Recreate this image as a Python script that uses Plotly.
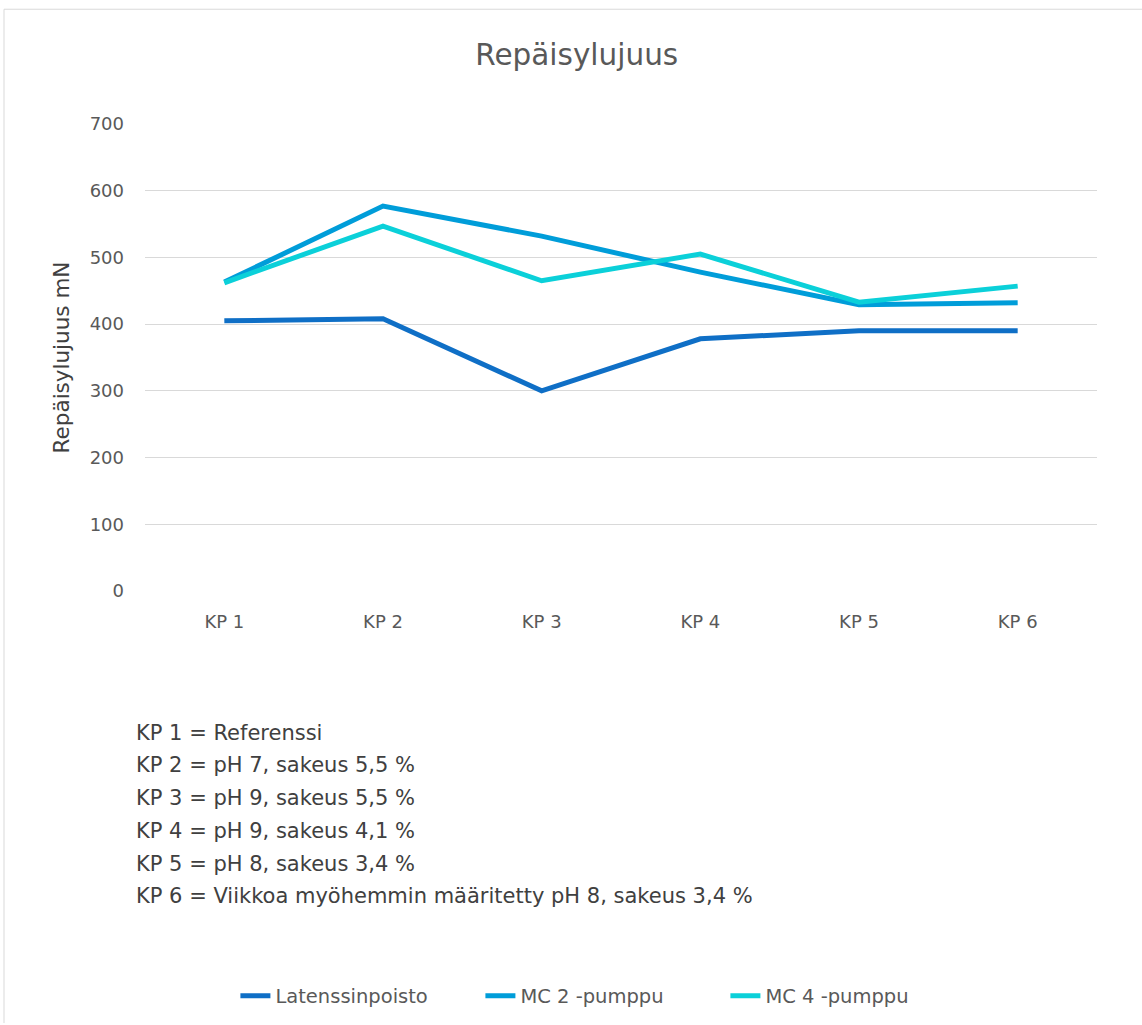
import plotly.graph_objects as go

categories = ["KP 1", "KP 2", "KP 3", "KP 4", "KP 5", "KP 6"]
latenssinpoisto = [405, 408, 300, 378, 390, 390]
mc2_pumppu = [463, 577, 532, 478, 429, 432]
mc4_pumppu = [462, 547, 465, 505, 433, 457]
series_names = ["Latenssinpoisto", "MC 2 -pumppu", "MC 4 -pumppu"]
colors = ["#0F6FC6", "#009DD9", "#0BD0D9"]
notes = [
    "KP 1 = Referenssi",
    "KP 2 = pH 7, sakeus 5,5 %",
    "KP 3 = pH 9, sakeus 5,5 %",
    "KP 4 = pH 9, sakeus 4,1 %",
    "KP 5 = pH 8, sakeus 3,4 %",
    "KP 6 = Viikkoa myöhemmin määritetty pH 8, sakeus 3,4 %",
]

W, H = 1142, 1025
L, R, T, B = 145, 45, 124, 433
ph = H - T - B
pw = W - L - R
FONT = "'DejaVu Sans', sans-serif"

fig = go.Figure()
for name, vals, c in zip(series_names, [latenssinpoisto, mc2_pumppu, mc4_pumppu], colors):
    fig.add_trace(go.Scatter(x=categories, y=vals, name=name, mode="lines",
                             line=dict(color=c, width=5)))

annotations = []
for i, t in enumerate(notes):
    ypix = 734 + i * 32.8
    annotations.append(dict(text=t, x=(134 - L) / pw, y=(T + ph - ypix) / ph,
                            xref="paper", yref="paper", xanchor="left", yanchor="middle",
                            showarrow=False, font=dict(family=FONT, size=21, color="#404040")))

shapes = [
    dict(type="line", xref="paper", yref="paper",
         x0=(4 - L) / pw, x1=(W - L) / pw, y0=(T + ph - 9) / ph, y1=(T + ph - 9) / ph,
         line=dict(color="#D9D9D9", width=1)),
    dict(type="line", xref="paper", yref="paper",
         x0=(4 - L) / pw, x1=(4 - L) / pw, y0=(T + ph - 9) / ph, y1=(T + ph - H) / ph,
         line=dict(color="#D9D9D9", width=1)),
]

fig.update_layout(
    width=W, height=H,
    margin=dict(l=L, r=R, t=T, b=B),
    paper_bgcolor="white", plot_bgcolor="white",
    title=dict(text="Repäisylujuus", x=0.505, xanchor="center", y=1 - 55 / H, yanchor="middle",
               font=dict(family=FONT, size=29.5, color="#595959")),
    xaxis=dict(range=[-0.5, 5.5], showgrid=False, showline=False, zeroline=False, ticks="",
               tickfont=dict(family=FONT, size=18, color="#595959"), ticklabelstandoff=18),
    yaxis=dict(range=[0, 700], dtick=100, showgrid=True, gridcolor="#D9D9D9", gridwidth=1.3,
               zeroline=False, showline=False, ticks="",
               tickfont=dict(family=FONT, size=18, color="#595959"), ticklabelstandoff=20,
               title=dict(text="Repäisylujuus mN", font=dict(family=FONT, size=21.5, color="#404040"),
                          standoff=14)),
    legend=dict(orientation="h", x=0.481, xanchor="center", y=(T + ph - 996) / ph, yanchor="middle",
                font=dict(family=FONT, size=19.5, color="#595959"), itemwidth=30,
                entrywidth=200, entrywidthmode="pixels", tracegroupgap=0),
    annotations=annotations,
    shapes=shapes,
    showlegend=True,
)

fig.write_html("out.html")
